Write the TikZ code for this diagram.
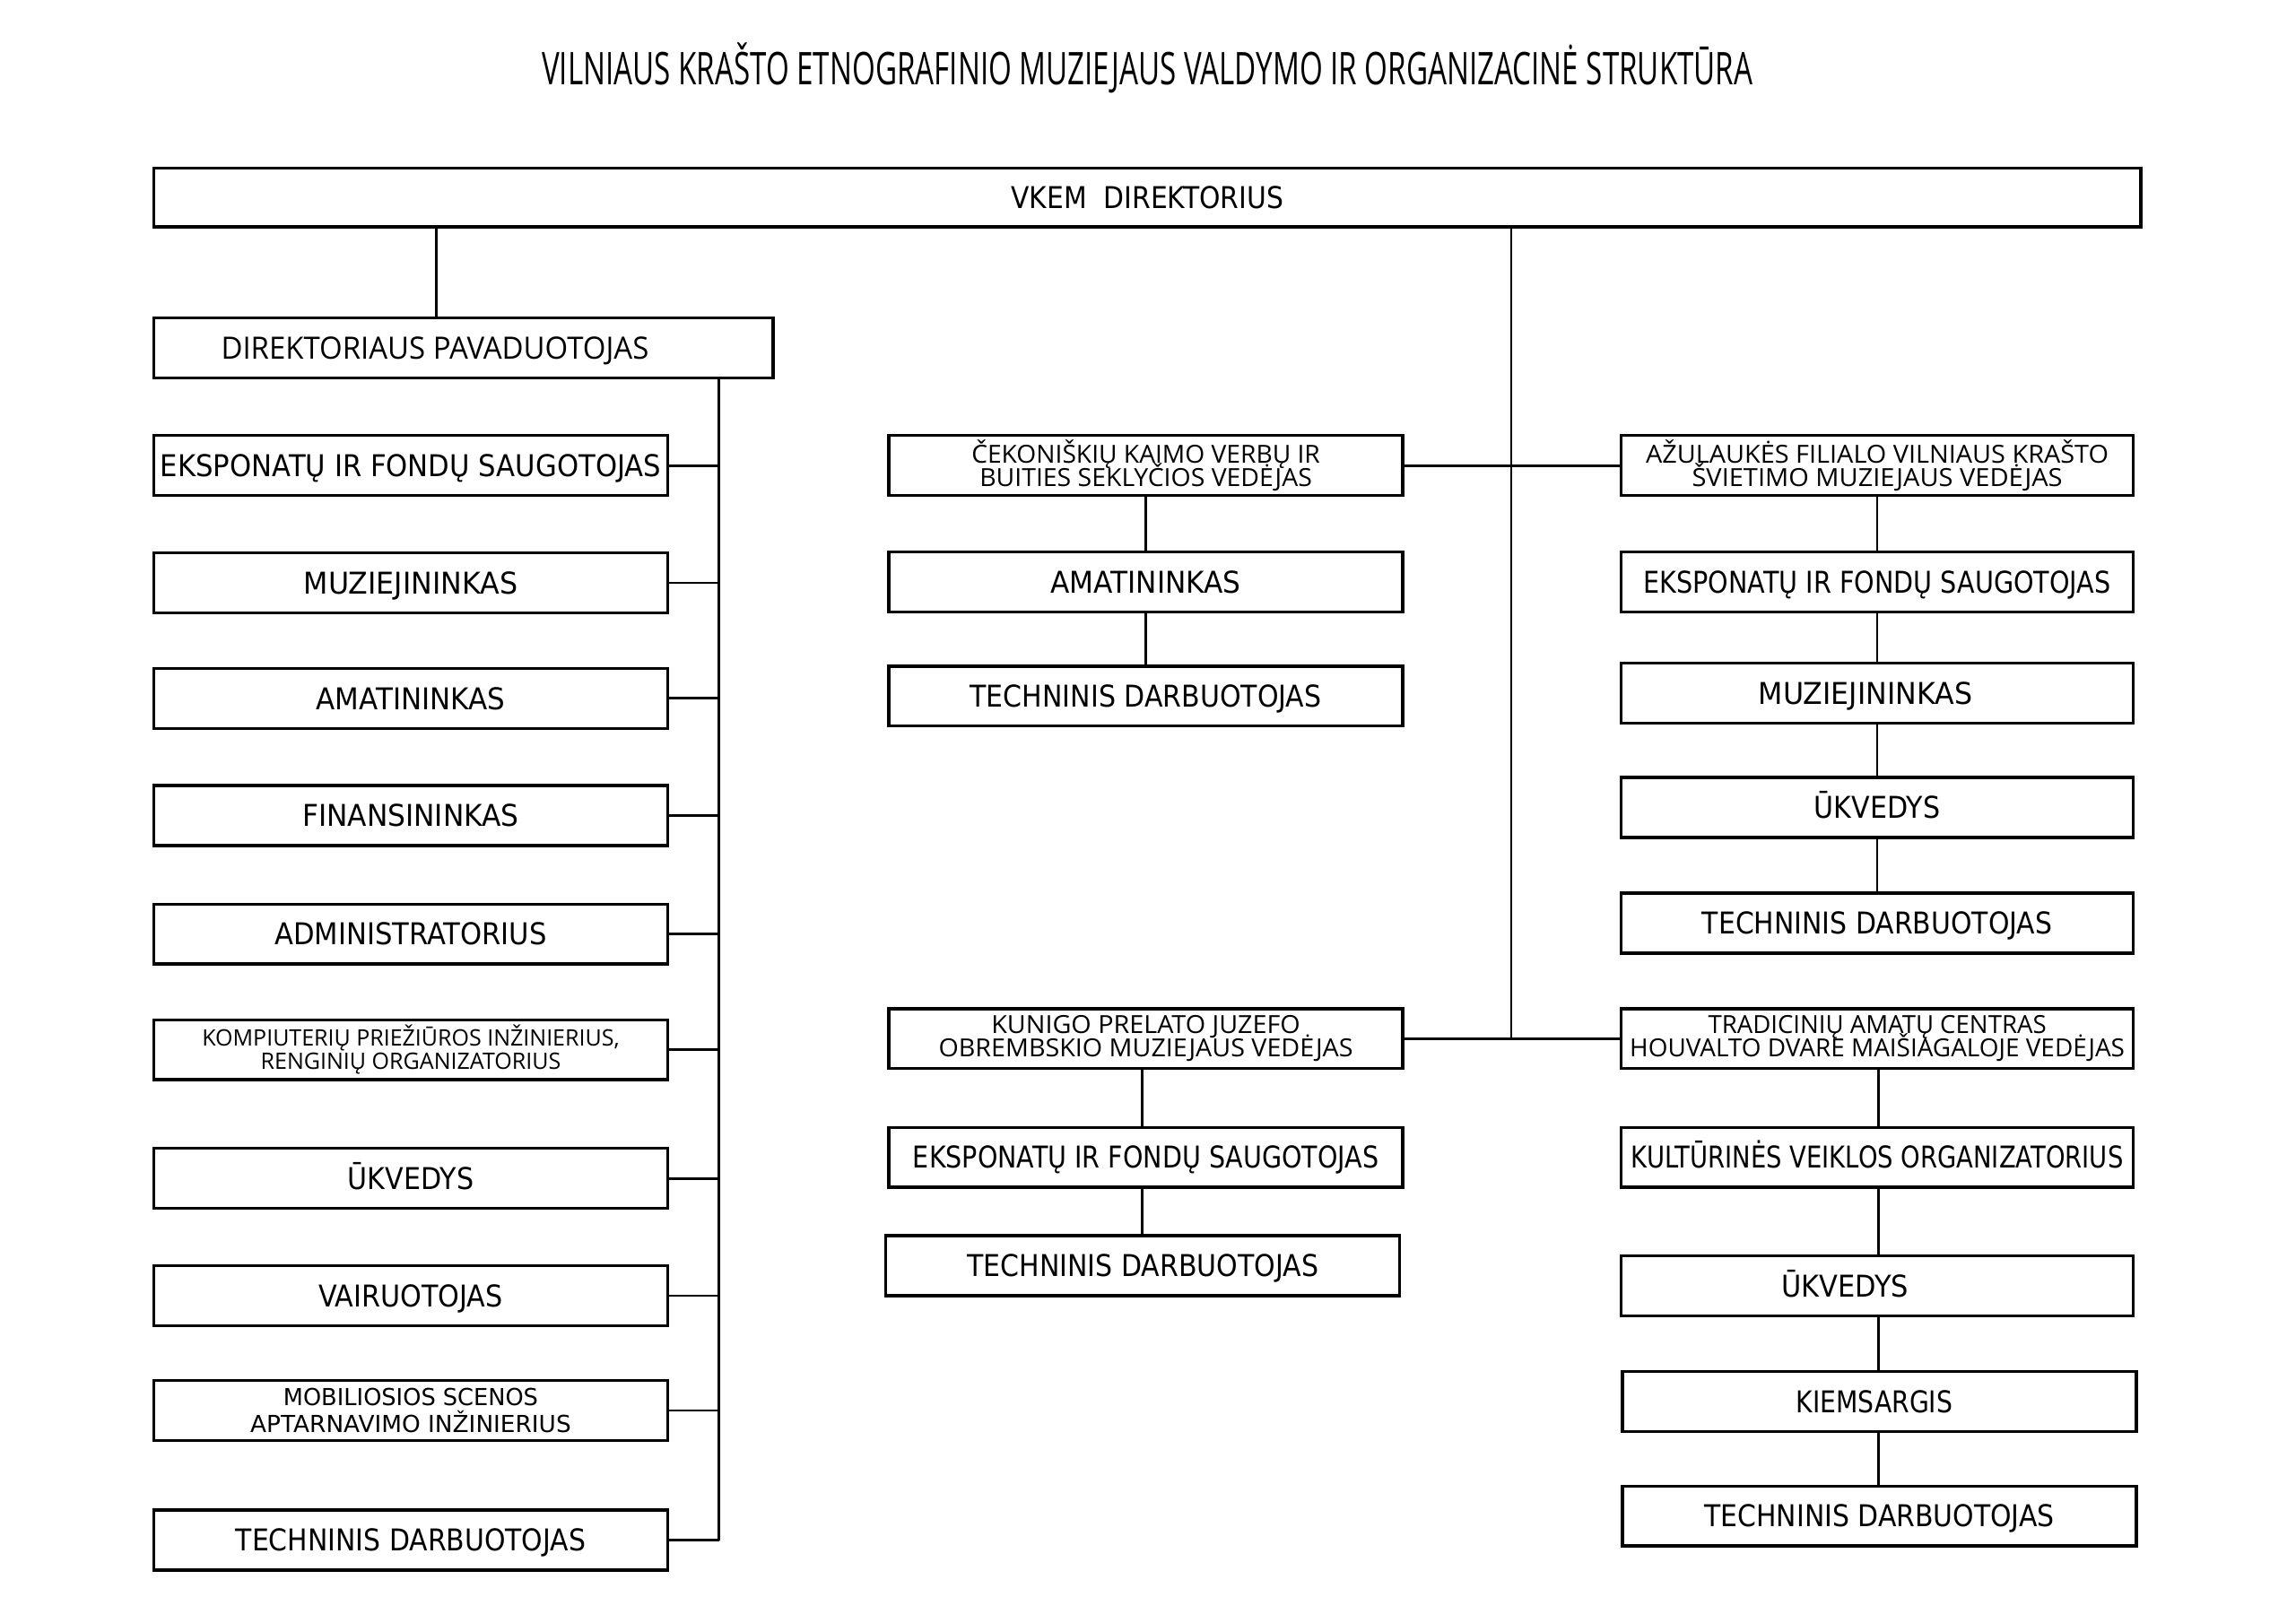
\documentclass[tikz,border=0pt]{standalone}
\usepackage{fontspec}
\usepackage{graphicx}
\newfontfamily\os{Open Sans}
\newfontfamily\dv{DejaVu Sans}
\newcommand\fw[2]{\resizebox{#1pt}{\height}{#2}}
\newcommand\tightlines{\lineskiplimit-16383pt\relax\lineskip0pt\relax}
\begin{document}
\begin{tikzpicture}[x=1pt,y=-1pt,
  box/.style={draw, line width=2pt, minimum height=41pt, inner sep=0pt, anchor=center},
  one/.style={box, font=\dv\fontsize{20.5}{24}\selectfont, text height=15pt, text depth=0pt},
  oneos/.style={box, font=\os\fontsize{21}{24}\selectfont, text height=15pt, text depth=0pt},
  two/.style={box, align=center, font=\os\fontsize{17}{16}\selectfont\tightlines},
  twodv/.style={box, align=center, font=\dv\fontsize{16}{18}\selectfont\tightlines},
  con/.style={line width=1.6pt}]
\useasboundingbox[fill=white] (0,0) rectangle (1568,1108.6);

\node[font=\os\fontsize{30.8}{34}\selectfont, text height=22pt, text depth=0pt, inner sep=0pt] (title) at (783.5,47) {\fw{827}{VILNIAUS KRAŠTO ETNOGRAFINIO MUZIEJAUS VALDYMO IR ORGANIZACINĖ STRUKTŪRA}};

\node[one, minimum width=1357pt, minimum height=40pt] (top) at (783.5,135) {\fw{186}{VKEM\ \ DIREKTORIUS}};
\node[oneos, minimum width=423pt] (dep) at (316.5,237.5) {\fw{292}{DIREKTORIAUS PAVADUOTOJAS}\hspace*{39pt}};

% left column
\node[one, minimum width=351pt] (l1) at (280.5,318) {\fw{342}{EKSPONATŲ IR FONDŲ SAUGOTOJAS}};
\node[one, minimum width=351pt] (l2) at (280.5,398) {\fw{146}{MUZIEJININKAS}};
\node[one, minimum width=351pt] (l3) at (280.5,477) {\fw{129}{AMATININKAS}};
\node[one, minimum width=351pt] (l4) at (280.5,557) {\fw{148}{FINANSININKAS}};
\node[one, minimum width=351pt] (l5) at (280.5,638) {\fw{186}{ADMINISTRATORIUS}};
\node[two, minimum width=351pt, font=\os\fontsize{15.5}{16}\selectfont\tightlines] (l6) at (280.5,717) {\fw{285}{KOMPIUTERIŲ PRIEŽIŪROS INŽINIERIUS,}\\\fw{205}{RENGINIŲ ORGANIZATORIUS}};
\node[one, minimum width=351pt] (l7) at (280.5,805) {\fw{86}{ŪKVEDYS}};
\node[one, minimum width=351pt] (l8) at (280.5,885) {\fw{126}{VAIRUOTOJAS}};
\node[twodv, minimum width=351pt] (l9) at (280.5,963.5) {\fw{174}{MOBILIOSIOS SCENOS}\\\fw{219}{APTARNAVIMO INŽINIERIUS}};
\node[one, minimum width=351pt] (l10) at (280.5,1052) {\fw{239}{TECHNINIS DARBUOTOJAS}};

% middle column
\node[two, minimum width=351pt] (m1) at (782.5,318) {\fw{238}{ČEKONIŠKIŲ KAIMO VERBŲ IR}\\\fw{227}{BUITIES SEKLYČIOS VEDĖJAS}};
\node[one, minimum width=351pt] (m2) at (782.5,397.5) {\fw{130}{AMATININKAS}};
\node[one, minimum width=351pt] (m3) at (782.5,475.5) {\fw{240}{TECHNINIS DARBUOTOJAS}};
\node[two, minimum width=351pt] (k1) at (782.5,709.5) {\fw{211}{KUNIGO PRELATO JUZEFO}\\\fw{283}{OBREMBSKIO MUZIEJAUS VEDĖJAS}};
\node[one, minimum width=351pt] (k2) at (782.5,790.5) {\fw{318}{EKSPONATŲ IR FONDŲ SAUGOTOJAS}};
\node[one, minimum width=351pt] (k3) at (780.5,864.5) {\fw{240}{TECHNINIS DARBUOTOJAS}};

% right column
\node[two, minimum width=350pt] (r1) at (1282,318) {\fw{316}{AŽULAUKĖS FILIALO VILNIAUS KRAŠTO}\\\fw{253}{ŠVIETIMO MUZIEJAUS VEDĖJAS}};
\node[one, minimum width=350pt] (r2) at (1282,397.5) {\fw{319}{EKSPONATŲ IR FONDŲ SAUGOTOJAS}};
\node[one, minimum width=350pt] (r3) at (1282,473.5) {\fw{146}{MUZIEJININKAS}\hspace*{16pt}};
\node[one, minimum width=350pt] (r4) at (1282,551.5) {\fw{86}{ŪKVEDYS}};
\node[one, minimum width=350pt] (r5) at (1282,630.5) {\fw{239}{TECHNINIS DARBUOTOJAS}};
\node[two, minimum width=350pt] (t1) at (1282,709.5) {\fw{231}{TRADICINIŲ AMATŲ CENTRAS}\\\fw{338}{HOUVALTO DVARE MAIŠIAGALOJE VEDĖJAS}};
\node[one, minimum width=350pt] (t2) at (1282,790.5) {\fw{336}{KULTŪRINĖS VEIKLOS ORGANIZATORIUS}};
\node[one, minimum width=350pt] (t3) at (1282,878.5) {\fw{87}{ŪKVEDYS}\hspace*{44pt}};
\node[one, minimum width=351pt] (t4) at (1283.5,957.5) {\fw{107}{KIEMSARGIS}\hspace*{7pt}};
\node[one, minimum width=351pt] (t5) at (1283.5,1035.5) {\fw{239}{TECHNINIS DARBUOTOJAS}};

% bus coordinates
\coordinate (xa) at (298,0);
\coordinate (xb) at (491,0);
\coordinate (xc) at (1032,0);
\coordinate (xm2) at (780,0);
\coordinate (xr2) at (1283,0);

% connectors
\draw[con] (top.south -| xa) -- (dep.north -| xa);
\draw[con] (dep.south -| xb) -- (l10.east -| xb);
\foreach \n in {l1,l2,l3,l4,l5,l6,l7,l8,l9,l10}
  \draw[con] (\n.east) -- (\n.east -| xb);
\draw[con] (top.south -| xc) -- (k1.east -| xc);
\draw[con] (m1.east) -- (r1.west);
\draw[con] (k1.east) -- (t1.west);
\draw[con] (m1.south) -- (m2.north);
\draw[con] (m2.south) -- (m3.north);
\draw[con] (k1.south -| xm2) -- (k2.north -| xm2);
\draw[con] (k2.south -| xm2) -- (k3.north -| xm2);
\draw[con] (r1.south) -- (r2.north);
\draw[con] (r2.south) -- (r3.north);
\draw[con] (r3.south) -- (r4.north);
\draw[con] (r4.south) -- (r5.north);
\draw[con] (t1.south -| xr2) -- (t2.north -| xr2);
\draw[con] (t2.south -| xr2) -- (t3.north -| xr2);
\draw[con] (t3.south -| xr2) -- (t4.north -| xr2);
\draw[con] (t4.south -| xr2) -- (t5.north -| xr2);
\end{tikzpicture}
\end{document}
